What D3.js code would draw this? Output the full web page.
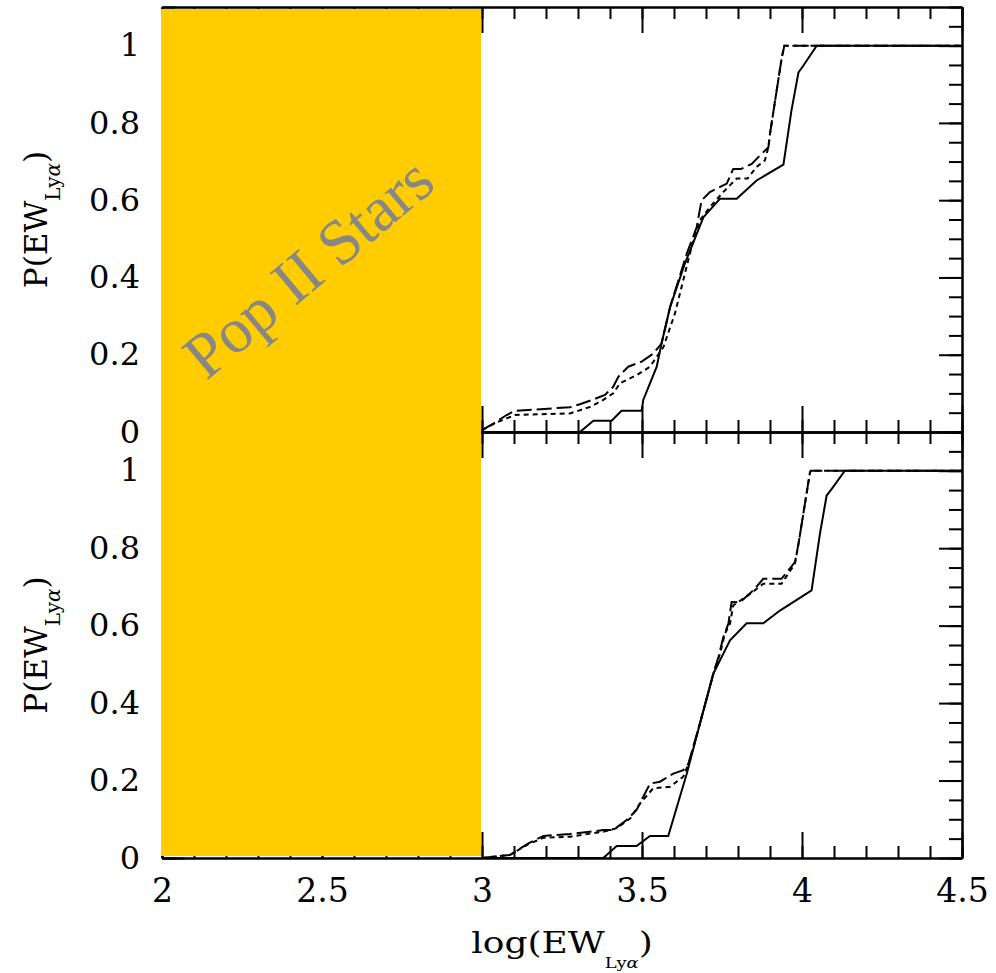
<!DOCTYPE html>
<html>
<head>
<meta charset="utf-8">
<script src="https://cdn.jsdelivr.net/npm/d3@7"></script>
<style>
  html, body { margin: 0; padding: 0; background: #fff; }
  svg { display: block; }
</style>
</head>
<body>
<svg id="chart" width="996" height="973"></svg>
<script>
// Tick labels
const xTicks = [2, 2.5, 3, 3.5, 4, 4.5];
const yTicks = [0, 0.2, 0.4, 0.6, 0.8, 1];
// Shaded log(EW) range attributed to Pop II stars
const popIIRange = [2, 3];
const popIILabel = "Pop II Stars";

// Cumulative distributions, upper panel: [log(EW), P]
const topSolid = [[3.0,0],[3.306,0],[3.348,0.029],[3.405,0.029],[3.436,0.055],[3.499,0.055],[3.504,0.083],[3.546,0.169],[3.561,0.229],[3.588,0.324],[3.634,0.436],[3.692,0.556],[3.744,0.604],[3.796,0.604],[3.858,0.651],[3.942,0.692],[3.967,0.832],[3.989,0.931],[4.004,0.948],[4.046,1.0],[4.5,1.0]];
const topDashed = [[3.0,0.005],[3.046,0.027],[3.077,0.044],[3.103,0.055],[3.275,0.064],[3.306,0.072],[3.348,0.084],[3.384,0.096],[3.41,0.117],[3.426,0.143],[3.457,0.169],[3.499,0.182],[3.535,0.203],[3.561,0.229],[3.588,0.324],[3.64,0.462],[3.671,0.53],[3.686,0.599],[3.712,0.621],[3.765,0.643],[3.785,0.681],[3.81,0.681],[3.843,0.694],[3.869,0.716],[3.895,0.737],[3.9,0.772],[3.916,0.858],[3.937,0.97],[3.945,1.0],[4.5,1.0]];
const topDotted = [[3.0,0.005],[3.046,0.025],[3.103,0.044],[3.275,0.048],[3.338,0.065],[3.379,0.083],[3.41,0.1],[3.431,0.126],[3.483,0.147],[3.525,0.169],[3.567,0.22],[3.603,0.307],[3.655,0.479],[3.681,0.548],[3.712,0.582],[3.754,0.621],[3.796,0.656],[3.83,0.656],[3.858,0.686],[3.884,0.703],[3.895,0.737],[3.9,0.772],[3.916,0.858],[3.937,0.97],[3.945,1.0],[4.5,1.0]];

// Cumulative distributions, lower panel
const botSolid = [[3.0,0],[3.379,0],[3.421,0.031],[3.483,0.031],[3.525,0.057],[3.582,0.057],[3.64,0.218],[3.681,0.347],[3.723,0.476],[3.775,0.562],[3.827,0.606],[3.879,0.606],[3.931,0.639],[4.03,0.691],[4.056,0.837],[4.077,0.936],[4.093,0.953],[4.134,1.0],[4.5,1.0]];
const botDashed = [[3.0,0],[3.035,0.003],[3.088,0.008],[3.145,0.038],[3.192,0.057],[3.275,0.062],[3.379,0.072],[3.41,0.072],[3.452,0.098],[3.483,0.124],[3.504,0.158],[3.525,0.192],[3.556,0.197],[3.598,0.218],[3.629,0.227],[3.645,0.244],[3.681,0.347],[3.723,0.476],[3.739,0.519],[3.754,0.57],[3.77,0.605],[3.78,0.661],[3.806,0.66],[3.848,0.691],[3.879,0.721],[3.936,0.721],[3.978,0.764],[3.989,0.811],[4.004,0.888],[4.025,0.996],[4.028,1.0],[4.5,1.0]];
const botDotted = [[3.0,0],[3.035,0.003],[3.088,0.008],[3.145,0.036],[3.192,0.052],[3.275,0.055],[3.379,0.068],[3.421,0.077],[3.463,0.102],[3.494,0.141],[3.535,0.18],[3.588,0.184],[3.629,0.21],[3.65,0.253],[3.681,0.347],[3.723,0.476],[3.744,0.528],[3.759,0.579],[3.775,0.605],[3.785,0.652],[3.838,0.682],[3.879,0.708],[3.936,0.708],[3.978,0.76],[3.989,0.811],[4.004,0.888],[4.025,0.996],[4.028,1.0],[4.5,1.0]];

const xDomain = [2, 4.5];
const yDomain = [0, 1.1];

const svg = d3.select("#chart");
const x = d3.scaleLinear().domain(xDomain).range([162, 962]);

const panels = [
  { top: 7,   bottom: 432, series: [topSolid, topDashed, topDotted] },
  { top: 432, bottom: 858, series: [botSolid, botDashed, botDotted] }
];
panels.forEach(p => { p.y = d3.scaleLinear().domain(yDomain).range([p.bottom, p.top]); });

const styles = [null, "15,5", "5,4"];
const xMinor = d3.range(20, 46).map(i => i / 10);
const xMajor = d3.range(4, 10).map(i => i / 2);
const yMinor = d3.range(0, 23).map(i => i / 20);
const yMajor = d3.range(0, 6).map(i => i / 5);
const serif = "'DejaVu Serif', serif";

const frame = svg.append("g");
const marks = svg.append("g");
const texts = svg.append("g");

function tickAxis(g, axis) {
  g.call(axis);
  g.selectAll("line").attr("stroke-width", 2);
  g.select(".domain").attr("stroke-width", 2);
}

panels.forEach(p => {
  const g = frame.append("g");
  // inward ticks on all four sides
  [[xMinor, 12], [xMajor, 26]].forEach(([vals, len]) => {
    g.append("g").attr("transform", `translate(0,${p.top})`)
      .call(s => tickAxis(s, d3.axisTop(x).tickValues(vals).tickSize(-len).tickSizeOuter(0).tickFormat("")));
    g.append("g").attr("transform", `translate(0,${p.bottom})`)
      .call(s => tickAxis(s, d3.axisBottom(x).tickValues(vals).tickSize(-len).tickSizeOuter(0).tickFormat("")));
  });
  [[yMinor, 13], [yMajor, 23]].forEach(([vals, len]) => {
    g.append("g").attr("transform", `translate(${x(xDomain[1])},0)`)
      .call(s => tickAxis(s, d3.axisRight(p.y).tickValues(vals).tickSize(-len).tickSizeOuter(0).tickFormat("")));
    g.append("g").attr("transform", `translate(${x(xDomain[0])},0)`)
      .call(s => tickAxis(s, d3.axisLeft(p.y).tickValues(vals).tickSize(-len).tickSizeOuter(0).tickFormat("")));
  });

  // y tick labels
  const yl = texts.append("g").attr("transform", `translate(${x(xDomain[0])},0)`)
    .call(d3.axisLeft(p.y).tickValues(yTicks).tickSize(0).tickPadding(22).tickFormat(d => String(d)));
  yl.select(".domain").remove();
  yl.selectAll("text").attr("font-family", serif).attr("font-size", 32).attr("fill", "#000");

  // y axis title
  const cy = (p.top + p.bottom) / 2;
  const t = texts.append("text")
    .attr("transform", `translate(47,${cy}) rotate(-90)`)
    .attr("text-anchor", "middle")
    .attr("font-family", serif).attr("fill", "#000");
  t.append("tspan").attr("font-size", 31).text("P(EW");
  t.append("tspan").attr("font-size", 20).attr("dy", 13).text("Ly");
  t.append("tspan").attr("font-size", 20).attr("font-style", "italic").text("α");
  t.append("tspan").attr("font-size", 31).attr("dy", -13).text(")");
});

// shaded Pop II region across both panels
const yTopPanel = panels[0].y, yBotPanel = panels[1].y;
marks.append("rect")
  .attr("x", x(popIIRange[0]) - 1)
  .attr("y", yTopPanel(yDomain[1]) + 2)
  .attr("width", x(popIIRange[1]) - x(popIIRange[0]))
  .attr("height", yBotPanel(0) - yTopPanel(yDomain[1]) - 4)
  .attr("fill", "#FFCC00");

// cumulative curves
panels.forEach(p => {
  const line = d3.line().x(d => x(d[0])).y(d => p.y(d[1]));
  p.series.forEach((s, i) => {
    marks.append("path")
      .attr("d", line(s))
      .attr("fill", "none")
      .attr("stroke", "#000")
      .attr("stroke-width", 2)
      .attr("stroke-dasharray", styles[i]);
  });
});

// x tick labels under the lower panel
const xl = texts.append("g").attr("transform", `translate(0,${panels[1].bottom})`)
  .call(d3.axisBottom(x).tickValues(xTicks).tickSize(0).tickPadding(21).tickFormat(d => String(d)));
xl.select(".domain").remove();
xl.selectAll("text").attr("font-family", serif).attr("font-size", 33).attr("fill", "#000");

// x axis title
const xt = texts.append("text")
  .attr("transform", `translate(562,953) scale(1.2,1)`)
  .attr("text-anchor", "middle")
  .attr("font-family", serif).attr("fill", "#000");
xt.append("tspan").attr("font-size", 30).text("log(EW");
xt.append("tspan").attr("font-size", 15).attr("dy", 15).text("Ly");
xt.append("tspan").attr("font-size", 15).attr("font-style", "italic").text("α");
xt.append("tspan").attr("font-size", 30).attr("dy", -15).text(")");

// region annotation
texts.append("text")
  .attr("transform", `translate(322,284) rotate(-40)`)
  .attr("text-anchor", "middle")
  .attr("font-family", "'Liberation Serif', 'Times New Roman', serif")
  .attr("font-size", 64)
  .attr("fill", "#878787")
  .text(popIILabel);
</script>
</body>
</html>
